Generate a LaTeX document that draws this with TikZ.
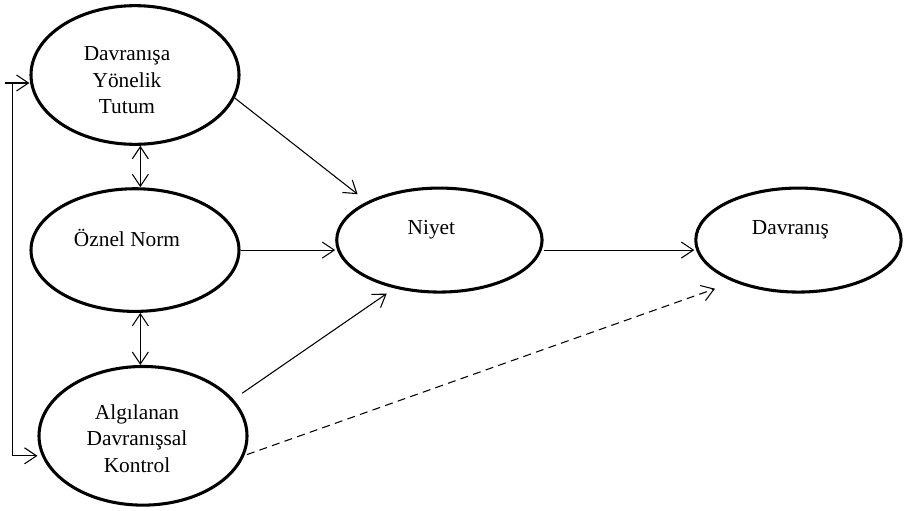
\documentclass[tikz,border=0pt]{standalone}
\usepackage{fontspec}
\setmainfont{Liberation Serif}
\usetikzlibrary{positioning, shapes.geometric, arrows.meta}

\begin{document}
\begin{tikzpicture}[x=0.75pt, y=-0.75pt]
\tikzstyle{main}=[ellipse, draw=black, line width=2.3pt, minimum width=156pt, minimum height=104pt, inner sep=0pt]
\tikzstyle{small}=[minimum height=78pt, minimum width=154pt]
\tikzstyle{txt}=[align=center, font=\fontsize{16}{20}\selectfont, inner sep=0pt]
\tikzstyle{connect}=[-{Straight Barb[length=9pt, width=12pt]}, line width=0.8pt]
\tikzstyle{both}=[{Straight Barb[length=9pt, width=12pt]}-{Straight Barb[length=9pt, width=12pt]}, line width=0.8pt]
\useasboundingbox (0,0) rectangle (905,510);
    \node[main] (tut) at (135,75) [label={[txt, xshift=-6pt, yshift=-4pt]center:Davranışa\\Yönelik\\Tutum}] { };
    \node[main, minimum height=92pt] (norm) [below=31pt of tut, label={[txt, xshift=-6pt, yshift=9pt]center:Öznel Norm}] { };
    \node[main] (adk) [below=39pt of norm, xshift=6pt, label={[txt, xshift=-4.5pt, yshift=-2pt]center:Algılanan\\Davranışsal\\Kontrol}] { };
    \node[main, small] (niyet) [right=71pt of norm, yshift=7.5pt, label={[txt, xshift=-6pt, yshift=7.5pt]center:Niyet}] { };
    \node[main, small] (davr) [right=113pt of niyet, label={[txt, xshift=-6pt, yshift=7.5pt]center:Davranış}] { };
    % left feedback line
    \coordinate (ltop) at ([xshift=-18pt, yshift=-6pt]tut.west);
    \coordinate (lvert) at ([xshift=-12.75pt, yshift=-6pt]tut.west);
    \draw[connect] (ltop) -- ([yshift=-6pt]tut.west);
    \draw[connect] (lvert) |- ([yshift=-15pt]adk.west);
    % correlations
    \draw[both] ([xshift=4pt]tut.south) -- ([xshift=4pt]norm.north);
    \draw[both] ([xshift=4pt]norm.south) -- ([xshift=4pt]norm.south |- adk.north);
    % paths
    \draw[connect, shorten >=9pt] (tut.-13) -- (niyet.152);
    \draw[connect] (norm.east) -- (norm.east -| niyet.west);
    \draw[connect, shorten <=8pt, shorten >=7pt] (adk.22) -- (niyet.227);
    \draw[connect] ([yshift=-7.5pt]niyet.east) -- ([yshift=-7.5pt]davr.west);
    \draw[connect, dash pattern=on 6pt off 4pt, shorten <=2pt, shorten >=15pt] (adk.-11) -- (davr.213);
\end{tikzpicture}
\end{document}
